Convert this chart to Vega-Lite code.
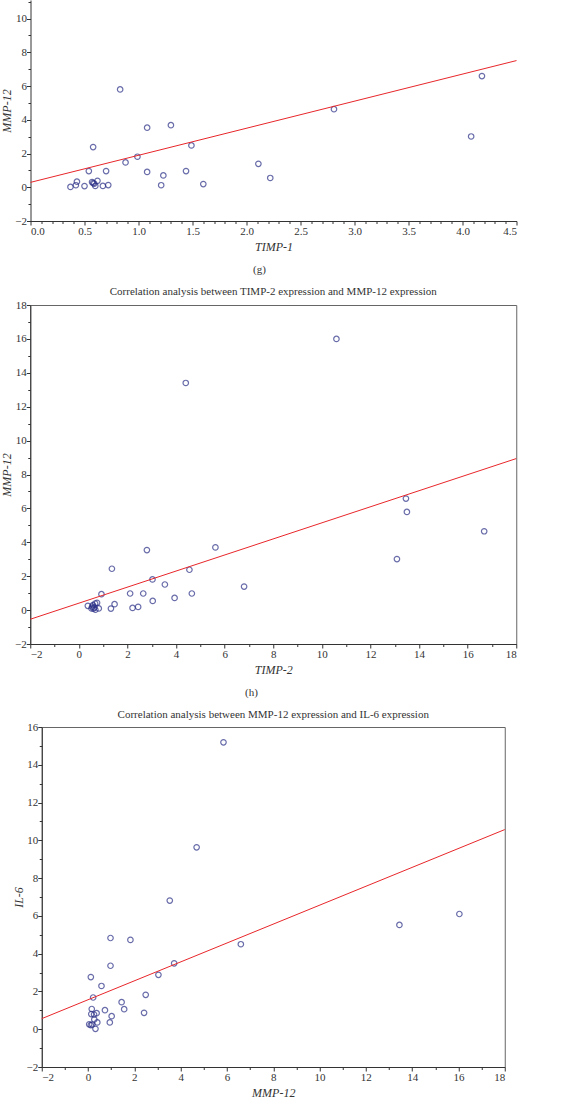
{
  "$schema": "https://vega.github.io/schema/vega-lite/v6.json",
  "padding": {"left": 0, "top": 0, "right": 0, "bottom": 0},
  "autosize": {"type": "pad"},
  "config": {
    "font": "Liberation Serif",
    "view": {"stroke": "#666", "strokeWidth": 1},
    "axis": {
      "labelFont": "Liberation Serif", "labelFontSize": 11, "labelColor": "#333",
      "tickColor": "#333", "domainColor": "#333", "tickSize": 4, "grid": false,
      "labelPadding": 0, "titleFont": "Liberation Serif", "titleFontSize": 12,
      "titleFontStyle": "italic", "titleFontWeight": "normal", "titleColor": "#333"
    },
    "axisX": {"titlePadding": 5},
    "axisY": {"titlePadding": 1},
    "title": {"font": "Liberation Serif", "fontSize": 11, "fontWeight": "normal", "color": "#333", "anchor": "middle", "frame": "group"},
    "concat": {"spacing": 10}
  },
  "datasets": {
    "g": [
      {"x": 0.37, "y": 0.02}, {"x": 0.42, "y": 0.12}, {"x": 0.43, "y": 0.33}, {"x": 0.50, "y": 0.07},
      {"x": 0.54, "y": 0.96}, {"x": 0.57, "y": 0.31}, {"x": 0.58, "y": 2.38}, {"x": 0.58, "y": 0.25},
      {"x": 0.59, "y": 0.22}, {"x": 0.60, "y": 0.08}, {"x": 0.62, "y": 0.38}, {"x": 0.67, "y": 0.08},
      {"x": 0.70, "y": 0.96}, {"x": 0.72, "y": 0.13}, {"x": 0.83, "y": 5.80}, {"x": 0.88, "y": 1.47},
      {"x": 0.99, "y": 1.81}, {"x": 1.08, "y": 3.53}, {"x": 1.08, "y": 0.91}, {"x": 1.21, "y": 0.12},
      {"x": 1.23, "y": 0.70}, {"x": 1.30, "y": 3.68}, {"x": 1.44, "y": 0.96}, {"x": 1.49, "y": 2.48},
      {"x": 1.60, "y": 0.19}, {"x": 2.11, "y": 1.39}, {"x": 2.22, "y": 0.55}, {"x": 2.81, "y": 4.63},
      {"x": 4.08, "y": 3.01}, {"x": 4.18, "y": 6.59}
    ],
    "gl": [{"x": 0, "y": 0.29}, {"x": 4.5, "y": 7.51}],
    "h": [
      {"x": 0.37, "y": 0.25}, {"x": 0.52, "y": 0.10}, {"x": 0.55, "y": 0.20}, {"x": 0.58, "y": 0.30},
      {"x": 0.60, "y": 0.08}, {"x": 0.64, "y": 0.15}, {"x": 0.67, "y": 0.39}, {"x": 0.68, "y": 0.02},
      {"x": 0.75, "y": 0.43}, {"x": 0.82, "y": 0.10}, {"x": 0.93, "y": 0.94}, {"x": 1.32, "y": 0.09},
      {"x": 1.36, "y": 2.44}, {"x": 1.47, "y": 0.35}, {"x": 2.11, "y": 0.98}, {"x": 2.21, "y": 0.13},
      {"x": 2.44, "y": 0.19}, {"x": 2.65, "y": 0.98}, {"x": 2.80, "y": 3.54}, {"x": 3.03, "y": 1.81},
      {"x": 3.04, "y": 0.54}, {"x": 3.54, "y": 1.51}, {"x": 3.94, "y": 0.72}, {"x": 4.55, "y": 2.38},
      {"x": 4.65, "y": 0.98}, {"x": 5.62, "y": 3.70}, {"x": 6.80, "y": 1.39}, {"x": 13.09, "y": 3.01},
      {"x": 13.46, "y": 6.58}, {"x": 13.50, "y": 5.79}, {"x": 16.68, "y": 4.65}, {"x": 4.40, "y": 13.40},
      {"x": 10.60, "y": 16.00}
    ],
    "hl": [{"x": -2, "y": -0.54}, {"x": 18, "y": 8.94}],
    "i": [
      {"x": 0.05, "y": 0.26}, {"x": 0.12, "y": 0.22}, {"x": 0.18, "y": 0.25}, {"x": 0.14, "y": 0.80},
      {"x": 0.26, "y": 0.78}, {"x": 0.37, "y": 0.85}, {"x": 0.27, "y": 0.52}, {"x": 0.40, "y": 0.36},
      {"x": 0.32, "y": 0.02}, {"x": 0.16, "y": 1.07}, {"x": 0.22, "y": 1.68}, {"x": 0.12, "y": 2.76},
      {"x": 0.58, "y": 2.29}, {"x": 0.73, "y": 1.01}, {"x": 1.02, "y": 0.69}, {"x": 0.94, "y": 0.36},
      {"x": 1.45, "y": 1.43}, {"x": 1.56, "y": 1.06}, {"x": 2.42, "y": 0.87}, {"x": 2.49, "y": 1.82},
      {"x": 0.97, "y": 4.83}, {"x": 1.83, "y": 4.73}, {"x": 0.97, "y": 3.36}, {"x": 3.53, "y": 6.81},
      {"x": 3.72, "y": 3.49}, {"x": 3.04, "y": 2.88}, {"x": 6.60, "y": 4.50}, {"x": 13.45, "y": 5.52},
      {"x": 16.04, "y": 6.10}, {"x": 5.85, "y": 15.19}, {"x": 4.69, "y": 9.63}
    ],
    "il": [{"x": -2, "y": 0.56}, {"x": 18, "y": 10.57}]
  },
  "center": true,
  "vconcat": [
    {
      "width": 486, "height": 221,
      "view": {"stroke": null},
      "title": {"text": "(g)", "orient": "bottom", "dx": -14, "offset": 12},
      "resolve": {"axis": {"x": "independent", "y": "independent"}},
      "layer": [
        {
          "data": {"name": "g"},
          "mark": {"type": "point", "shape": "circle", "filled": false, "stroke": "#2a2f86", "strokeWidth": 1.2, "size": 30},
          "encoding": {
            "x": {"field": "x", "type": "quantitative", "scale": {"domain": [0, 4.5], "nice": false, "zero": false},
              "axis": {"orient": "bottom", "title": "TIMP-1", "values": [0, 0.5, 1, 1.5, 2, 2.5, 3, 3.5, 4, 4.5], "format": ".1f"}},
            "y": {"field": "y", "type": "quantitative", "scale": {"domain": [-2, 11.1], "nice": false, "zero": false},
              "axis": {"orient": "left", "title": "MMP-12", "values": [-2, 0, 2, 4, 6, 8, 10]}}
          }
        },
        {
          "data": {"name": "gl"},
          "mark": {"type": "line", "color": "#e8262a", "strokeWidth": 1},
          "encoding": {
            "x": {"field": "x", "type": "quantitative",
              "axis": {"orient": "bottom", "title": null, "labels": false, "domain": false, "tickSize": 2.5,
                "values": [0.1, 0.2, 0.3, 0.4, 0.6, 0.7, 0.8, 0.9, 1.1, 1.2, 1.3, 1.4, 1.6, 1.7, 1.8, 1.9, 2.1, 2.2, 2.3, 2.4, 2.6, 2.7, 2.8, 2.9, 3.1, 3.2, 3.3, 3.4, 3.6, 3.7, 3.8, 3.9, 4.1, 4.2, 4.3, 4.4]}},
            "y": {"field": "y", "type": "quantitative",
              "axis": {"orient": "left", "title": null, "labels": false, "domain": false, "tickSize": 2.5,
                "values": [-1, 1, 3, 5, 7, 9, 11]}}
          }
        },
        {
          "mark": {"type": "rule", "color": "#555", "strokeWidth": 1},
          "encoding": {"x": {"datum": 4.5, "type": "quantitative", "axis": null}}
        }
      ]
    },
    {
      "title": {"text": "(h)", "orient": "bottom", "frame": "bounds", "dx": -8, "offset": 11},
      "vconcat": [
        {
          "width": 486, "height": 339,
          "title": {"text": "Correlation analysis between TIMP-2 expression and MMP-12 expression", "offset": 2},
          "resolve": {"axis": {"x": "independent", "y": "independent"}},
          "layer": [
            {
              "data": {"name": "h"},
              "mark": {"type": "point", "shape": "circle", "filled": false, "stroke": "#2a2f86", "strokeWidth": 1.2, "size": 30},
              "encoding": {
                "x": {"field": "x", "type": "quantitative", "scale": {"domain": [-2, 18], "nice": false, "zero": false},
                  "axis": {"orient": "bottom", "title": "TIMP-2", "values": [-2, 0, 2, 4, 6, 8, 10, 12, 14, 16, 18]}},
                "y": {"field": "y", "type": "quantitative", "scale": {"domain": [-2, 18], "nice": false, "zero": false},
                  "axis": {"orient": "left", "title": "MMP-12", "values": [-2, 0, 2, 4, 6, 8, 10, 12, 14, 16, 18]}}
              }
            },
            {
              "data": {"name": "hl"},
              "mark": {"type": "line", "color": "#e8262a", "strokeWidth": 1},
              "encoding": {
                "x": {"field": "x", "type": "quantitative",
                  "axis": {"orient": "bottom", "title": null, "labels": false, "domain": false, "tickSize": 2.5,
                    "values": [-1, 1, 3, 5, 7, 9, 11, 13, 15, 17]}},
                "y": {"field": "y", "type": "quantitative",
                  "axis": {"orient": "left", "title": null, "labels": false, "domain": false, "tickSize": 2.5,
                    "values": [-1, 1, 3, 5, 7, 9, 11, 13, 15, 17]}}
              }
            }
          ]
        }
      ]
    },
    {
      "width": 463, "height": 340,
      "title": {"text": "Correlation analysis between MMP-12 expression and IL-6 expression", "offset": 1},
      "resolve": {"axis": {"x": "independent", "y": "independent"}},
      "layer": [
        {
          "data": {"name": "i"},
          "mark": {"type": "point", "shape": "circle", "filled": false, "stroke": "#2a2f86", "strokeWidth": 1.2, "size": 30},
          "encoding": {
            "x": {"field": "x", "type": "quantitative", "scale": {"domain": [-2, 18], "nice": false, "zero": false},
              "axis": {"orient": "bottom", "title": "MMP-12", "values": [-2, 0, 2, 4, 6, 8, 10, 12, 14, 16, 18]}},
            "y": {"field": "y", "type": "quantitative", "scale": {"domain": [-2, 16], "nice": false, "zero": false},
              "axis": {"orient": "left", "title": "IL-6", "values": [-2, 0, 2, 4, 6, 8, 10, 12, 14, 16]}}
          }
        },
        {
          "data": {"name": "il"},
          "mark": {"type": "line", "color": "#e8262a", "strokeWidth": 1},
          "encoding": {
            "x": {"field": "x", "type": "quantitative",
              "axis": {"orient": "bottom", "title": null, "labels": false, "domain": false, "tickSize": 2.5,
                "values": [-1, 1, 3, 5, 7, 9, 11, 13, 15, 17]}},
            "y": {"field": "y", "type": "quantitative",
              "axis": {"orient": "left", "title": null, "labels": false, "domain": false, "tickSize": 2.5,
                "values": [-1, 1, 3, 5, 7, 9, 11, 13, 15]}}
          }
        }
      ]
    }
  ]
}
